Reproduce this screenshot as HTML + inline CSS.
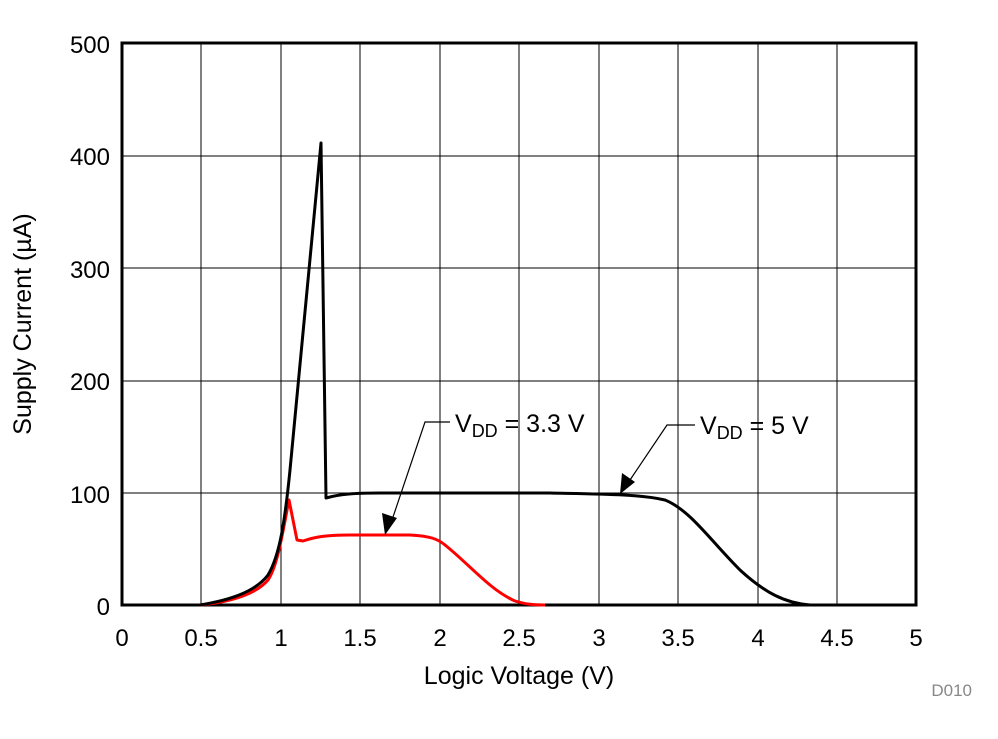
<!DOCTYPE html>
<html><head><style>body{margin:0;background:#fff}</style></head><body>
<svg width="998" height="734" xmlns="http://www.w3.org/2000/svg" font-family="Liberation Sans, Arial, sans-serif">
<g stroke="#000" stroke-width="1">
<line x1="201" y1="43" x2="201" y2="605"/><line x1="281" y1="43" x2="281" y2="605"/><line x1="360" y1="43" x2="360" y2="605"/><line x1="440" y1="43" x2="440" y2="605"/><line x1="519" y1="43" x2="519" y2="605"/><line x1="599" y1="43" x2="599" y2="605"/><line x1="678" y1="43" x2="678" y2="605"/><line x1="758" y1="43" x2="758" y2="605"/><line x1="837" y1="43" x2="837" y2="605"/>
<line x1="122" y1="156" x2="916" y2="156"/><line x1="122" y1="268" x2="916" y2="268"/><line x1="122" y1="381" x2="916" y2="381"/><line x1="122" y1="493" x2="916" y2="493"/>
</g>
<rect x="122" y="43" width="794" height="562" fill="none" stroke="#000" stroke-width="3"/>
<path fill="none" stroke="#f00" stroke-width="3" stroke-linejoin="round" d="M200,605 C230,602 255,595 268,580 C278,565 283,530 289,500 L297,540 L303,541 C315,537 325,535 350,535 L410,535 C430,536 438,539 445,545 C470,565 490,590 515,601 C525,604 532,605 545,605"/>
<path fill="none" stroke="#000" stroke-width="3" stroke-linejoin="round" d="M200,605 C230,600 255,592 268,575 C280,555 285,520 290,470 L321,143 L326,498 C340,494 355,493 380,493 L550,493 C600,494 640,494 665,500 C690,510 710,540 740,570 C765,593 785,603 810,605 L916,605"/>
<g stroke="#000" stroke-width="1.2" fill="none">
<polyline points="450,422 425,422 392,520"/><polyline points="695,425 667,425 630,480"/>
</g>
<polygon points="385,535 382,513 397,518" fill="#000"/>
<polygon points="620,494 622,473 635,482" fill="#000"/>
<g font-size="25" fill="#000">
<text x="455" y="432">V<tspan font-size="18" dy="5">DD</tspan><tspan dy="-5"> = 3.3 V</tspan></text>
<text x="700" y="434">V<tspan font-size="18" dy="5">DD</tspan><tspan dy="-5"> = 5 V</tspan></text>
</g>
<g font-size="24" fill="#000" text-anchor="end">
<text x="110" y="53">500</text><text x="110" y="165">400</text><text x="110" y="278">300</text><text x="110" y="390">200</text><text x="110" y="503">100</text><text x="110" y="615">0</text>
</g>
<g font-size="24" fill="#000" text-anchor="middle">
<text x="122" y="646">0</text><text x="201" y="646">0.5</text><text x="281" y="646">1</text><text x="360" y="646">1.5</text><text x="440" y="646">2</text><text x="519" y="646">2.5</text><text x="599" y="646">3</text><text x="678" y="646">3.5</text><text x="758" y="646">4</text><text x="837" y="646">4.5</text><text x="916" y="646">5</text>
<text x="519" y="684" font-size="25">Logic Voltage (V)</text>
<text transform="translate(31,324) rotate(-90)" font-size="25">Supply Current (µA)</text>
</g>
<text x="972" y="696" font-size="17" fill="#888" text-anchor="end">D010</text>
</svg>
</body></html>
